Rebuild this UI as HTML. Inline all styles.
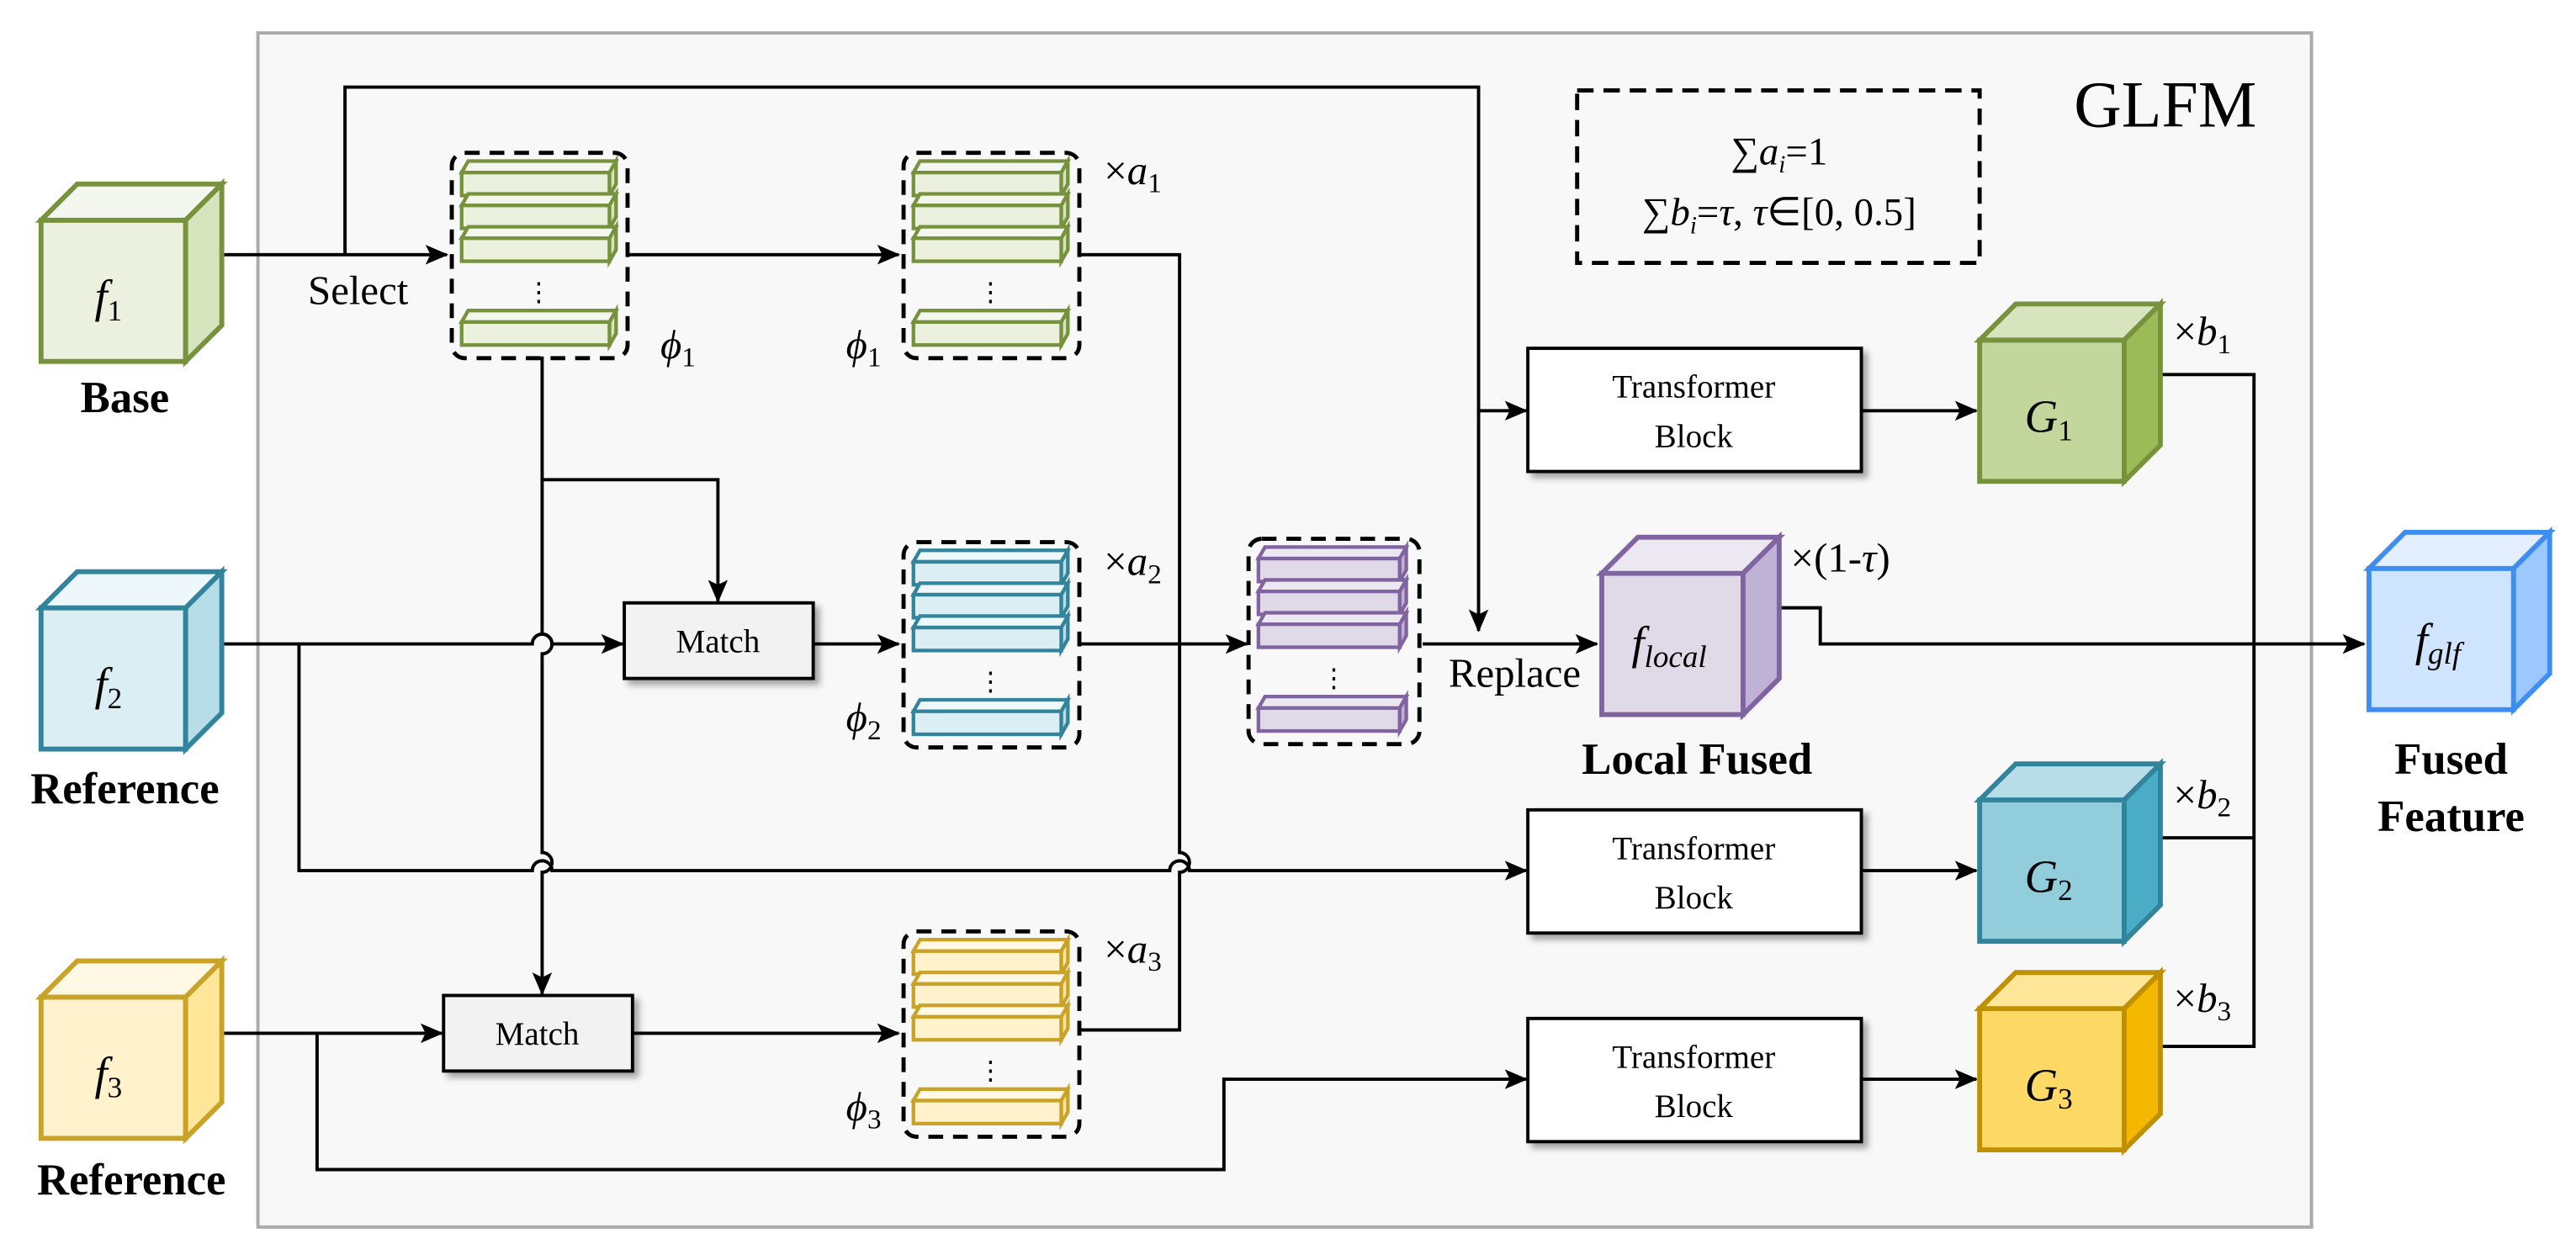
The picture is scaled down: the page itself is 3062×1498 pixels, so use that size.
<!DOCTYPE html>
<html><head><meta charset="utf-8"><style>html,body{margin:0;padding:0;background:#fff}svg{display:block}svg text{font-family:"Liberation Serif",serif}</style></head>
<body>
<svg width="3062" height="1498" viewBox="0 0 1568 767" xmlns="http://www.w3.org/2000/svg" style="font-family:'Liberation Serif',serif">
<defs>
<marker id="ar" markerWidth="14" markerHeight="12" refX="13" refY="6" orient="auto" markerUnits="userSpaceOnUse"><path d="M0,0 L14,6 L0,12 L3,6 Z" fill="#000"/></marker>
<filter id="sh" x="-10%" y="-10%" width="130%" height="140%"><feDropShadow dx="3" dy="3" stdDeviation="2" flood-color="#000" flood-opacity="0.35"/></filter>
</defs>
<rect x="157" y="20" width="1250" height="727" fill="#f8f8f8" stroke="#aaa" stroke-width="2"/>
<text x="1318" y="77" font-size="40" text-anchor="middle">GLFM</text>
<rect x="960" y="55" width="245" height="105" fill="none" stroke="#000" stroke-width="2.5" stroke-dasharray="10,6"/>
<text x="1083" y="100" font-size="24" text-anchor="middle">∑<tspan font-style="italic">a</tspan><tspan font-size="15" font-style="italic" dy="5">i</tspan><tspan dy="-5">=1</tspan></text>
<text x="1083" y="137" font-size="24" text-anchor="middle">∑<tspan font-style="italic">b</tspan><tspan font-size="15" font-style="italic" dy="5">i</tspan><tspan dy="-5">=</tspan><tspan font-style="italic">τ</tspan>, <tspan font-style="italic">τ</tspan>∈[0, 0.5]</text>

<g fill="none" stroke="#000" stroke-width="2">
<path d="M135,155 H272" marker-end="url(#ar)"/>
<path d="M210,155 V53 H900 V384" marker-end="url(#ar)"/>
<path d="M900,250 H929" marker-end="url(#ar)"/>
<path d="M383,155 H547" marker-end="url(#ar)"/>
<path d="M658,155 H718 V519 A6,6 0 0 1 718,531 V627 H658"/>
<path d="M658,392 H759" marker-end="url(#ar)"/>
<path d="M866,392 H972" marker-end="url(#ar)"/>
<path d="M330,217 V386 A6,6 0 0 1 330,398 V519 A6,6 0 0 1 330,531 V605" marker-end="url(#ar)"/>
<path d="M330,292 H437 V366" marker-end="url(#ar)"/>
<path d="M135,392 H324 A6,6 0 0 1 336,392 H379" marker-end="url(#ar)"/>
<path d="M182,392 V530 H324 A6,6 0 0 1 336,530 H712 A6,6 0 0 1 724,530 H929" marker-end="url(#ar)"/>
<path d="M495,392 H547" marker-end="url(#ar)"/>
<path d="M135,629 H269" marker-end="url(#ar)"/>
<path d="M193,629 V712 H745 V657 H929" marker-end="url(#ar)"/>
<path d="M385,629 H547" marker-end="url(#ar)"/>
<path d="M1133,250 H1203" marker-end="url(#ar)"/>
<path d="M1133,530 H1203" marker-end="url(#ar)"/>
<path d="M1133,657 H1203" marker-end="url(#ar)"/>
<path d="M1315,228 H1372 V637 H1315 M1315,510 H1372"/>
<path d="M1083,370 H1108 V392 H1439" marker-end="url(#ar)"/>
</g>

<text x="218" y="185" font-size="25" text-anchor="middle">Select</text>
<text x="922" y="418" font-size="25" text-anchor="middle">Replace</text>

<g filter="url(#sh)" stroke="#000" stroke-width="2">
<rect x="380" y="367" width="115" height="46" fill="#f2f2f2"/>
<rect x="270" y="606" width="115" height="46" fill="#f2f2f2"/>
<rect x="930" y="212" width="203" height="75" fill="#fff"/>
<rect x="930" y="493" width="203" height="75" fill="#fff"/>
<rect x="930" y="620" width="203" height="75" fill="#fff"/>
</g>
<g font-size="20" text-anchor="middle">
<text x="437" y="397">Match</text><text x="327" y="636">Match</text>
<text x="1031" y="242">Transformer</text><text x="1031" y="272">Block</text>
<text x="1031" y="523">Transformer</text><text x="1031" y="553">Block</text>
<text x="1031" y="650">Transformer</text><text x="1031" y="680">Block</text>
</g>

<g stroke-width="3" stroke-linejoin="miter">
<g stroke="#76923c"><rect x="25" y="134" width="88" height="86" fill="#ebf1de"/><path d="M25,134 L47,112 H135 L113,134 Z" fill="#f4f7ee"/><path d="M113,134 L135,112 V198 L113,220 Z" fill="#d7e4bd"/></g>
<g stroke="#31849b"><rect x="25" y="370" width="88" height="86" fill="#dbeef3"/><path d="M25,370 L47,348 H135 L113,370 Z" fill="#eef7fa"/><path d="M113,370 L135,348 V434 L113,456 Z" fill="#b7dde8"/></g>
<g stroke="#c9a227"><rect x="25" y="607" width="88" height="86" fill="#fff2cc"/><path d="M25,607 L47,585 H135 L113,607 Z" fill="#fff8e5"/><path d="M113,607 L135,585 V671 L113,693 Z" fill="#ffe699"/></g>
<g stroke="#76923c"><rect x="1205" y="207" width="88" height="86" fill="#c3d69b"/><path d="M1205,207 L1227,185 H1315 L1293,207 Z" fill="#d7e4bd"/><path d="M1293,207 L1315,185 V271 L1293,293 Z" fill="#9bbb59"/></g>
<g stroke="#31849b"><rect x="1205" y="487" width="88" height="86" fill="#92cddc"/><path d="M1205,487 L1227,465 H1315 L1293,487 Z" fill="#b7dde8"/><path d="M1293,487 L1315,465 V551 L1293,573 Z" fill="#4bacc6"/></g>
<g stroke="#bf9000"><rect x="1205" y="614" width="88" height="86" fill="#ffd966"/><path d="M1205,614 L1227,592 H1315 L1293,614 Z" fill="#ffe699"/><path d="M1293,614 L1315,592 V678 L1293,700 Z" fill="#f4b800"/></g>
<g stroke="#8064a2"><rect x="975" y="349" width="86" height="86" fill="#e0d9e8"/><path d="M975,349 L997,327 H1083 L1061,349 Z" fill="#ece8f2"/><path d="M1061,349 L1083,327 V413 L1061,435 Z" fill="#c0b2d4"/></g>
<g stroke="#3d8ef0"><rect x="1442" y="346" width="88" height="86" fill="#cfe4ff"/><path d="M1442,346 L1464,324 H1552 L1530,346 Z" fill="#e3efff"/><path d="M1530,346 L1552,324 V410 L1530,432 Z" fill="#9cc7ff"/></g>
</g>
<g font-size="28" font-style="italic" text-anchor="middle">
<text x="66" y="190">f<tspan font-size="18" font-style="normal" dy="5">1</tspan></text>
<text x="66" y="426">f<tspan font-size="18" font-style="normal" dy="5">2</tspan></text>
<text x="66" y="663">f<tspan font-size="18" font-style="normal" dy="5">3</tspan></text>
<text x="1247" y="263">G<tspan font-size="18" font-style="normal" dy="5">1</tspan></text>
<text x="1247" y="543">G<tspan font-size="18" font-style="normal" dy="5">2</tspan></text>
<text x="1247" y="670">G<tspan font-size="18" font-style="normal" dy="5">3</tspan></text>
<text x="1016" y="401">f<tspan font-size="19" dy="5">local</tspan></text>
<text x="1484" y="399">f<tspan font-size="19" dy="5">glf</tspan></text>
</g>
<g font-size="27" font-weight="bold" text-anchor="middle">
<text x="76" y="251">Base</text><text x="76" y="489">Reference</text><text x="80" y="727">Reference</text>
<text x="1033" y="471">Local Fused</text><text x="1492" y="471">Fused</text><text x="1492" y="506">Feature</text>
</g>
<g font-size="25">
<text x="672" y="112">×<tspan font-style="italic">a</tspan><tspan font-size="17" dy="5">1</tspan></text>
<text x="672" y="350">×<tspan font-style="italic">a</tspan><tspan font-size="17" dy="5">2</tspan></text>
<text x="672" y="586">×<tspan font-style="italic">a</tspan><tspan font-size="17" dy="5">3</tspan></text>
<text x="1323" y="210">×<tspan font-style="italic">b</tspan><tspan font-size="17" dy="5">1</tspan></text>
<text x="1323" y="492">×<tspan font-style="italic">b</tspan><tspan font-size="17" dy="5">2</tspan></text>
<text x="1323" y="616">×<tspan font-style="italic">b</tspan><tspan font-size="17" dy="5">3</tspan></text>
<text x="1090" y="348">×(1-<tspan font-style="italic">τ</tspan>)</text>
<text x="402" y="218" font-style="italic">ϕ<tspan font-size="17" font-style="normal" dy="5">1</tspan></text>
<text x="515" y="218" font-style="italic">ϕ<tspan font-size="17" font-style="normal" dy="5">1</tspan></text>
<text x="515" y="445" font-style="italic">ϕ<tspan font-size="17" font-style="normal" dy="5">2</tspan></text>
<text x="515" y="682" font-style="italic">ϕ<tspan font-size="17" font-style="normal" dy="5">3</tspan></text>
</g>

<g stroke-width="2.2">
<g transform="translate(275,93)"><g stroke="#76923c" fill="#ebf1de">
<path d="M6,12 L10,5 H100 L96,12 Z" fill="#f4f7ee"/><rect x="6" y="12" width="90" height="14"/><path d="M96,12 L100,5 V19 L96,26 Z" fill="#d7e4bd"/>
<path d="M6,32 L10,25 H100 L96,32 Z" fill="#f4f7ee"/><rect x="6" y="32" width="90" height="14"/><path d="M96,32 L100,25 V39 L96,46 Z" fill="#d7e4bd"/>
<path d="M6,52 L10,45 H100 L96,52 Z" fill="#f4f7ee"/><rect x="6" y="52" width="90" height="14"/><path d="M96,52 L100,45 V59 L96,66 Z" fill="#d7e4bd"/>
<path d="M6,103 L10,96 H100 L96,103 Z" fill="#f4f7ee"/><rect x="6" y="103" width="90" height="14"/><path d="M96,103 L100,96 V110 L96,117 Z" fill="#d7e4bd"/>
</g><rect x="0" y="0" width="107" height="125" rx="8" fill="none" stroke="#000" stroke-dasharray="9,6" stroke-width="2.5"/><text x="53" y="90" font-size="16" text-anchor="middle">⋮</text></g>
<g transform="translate(550,93)"><g stroke="#76923c" fill="#ebf1de">
<path d="M6,12 L10,5 H100 L96,12 Z" fill="#f4f7ee"/><rect x="6" y="12" width="90" height="14"/><path d="M96,12 L100,5 V19 L96,26 Z" fill="#d7e4bd"/>
<path d="M6,32 L10,25 H100 L96,32 Z" fill="#f4f7ee"/><rect x="6" y="32" width="90" height="14"/><path d="M96,32 L100,25 V39 L96,46 Z" fill="#d7e4bd"/>
<path d="M6,52 L10,45 H100 L96,52 Z" fill="#f4f7ee"/><rect x="6" y="52" width="90" height="14"/><path d="M96,52 L100,45 V59 L96,66 Z" fill="#d7e4bd"/>
<path d="M6,103 L10,96 H100 L96,103 Z" fill="#f4f7ee"/><rect x="6" y="103" width="90" height="14"/><path d="M96,103 L100,96 V110 L96,117 Z" fill="#d7e4bd"/>
</g><rect x="0" y="0" width="107" height="125" rx="8" fill="none" stroke="#000" stroke-dasharray="9,6" stroke-width="2.5"/><text x="53" y="90" font-size="16" text-anchor="middle">⋮</text></g>
<g transform="translate(550,330)"><g stroke="#31849b" fill="#dbeef3">
<path d="M6,12 L10,5 H100 L96,12 Z" fill="#eef7fa"/><rect x="6" y="12" width="90" height="14"/><path d="M96,12 L100,5 V19 L96,26 Z" fill="#b7dde8"/>
<path d="M6,32 L10,25 H100 L96,32 Z" fill="#eef7fa"/><rect x="6" y="32" width="90" height="14"/><path d="M96,32 L100,25 V39 L96,46 Z" fill="#b7dde8"/>
<path d="M6,52 L10,45 H100 L96,52 Z" fill="#eef7fa"/><rect x="6" y="52" width="90" height="14"/><path d="M96,52 L100,45 V59 L96,66 Z" fill="#b7dde8"/>
<path d="M6,103 L10,96 H100 L96,103 Z" fill="#eef7fa"/><rect x="6" y="103" width="90" height="14"/><path d="M96,103 L100,96 V110 L96,117 Z" fill="#b7dde8"/>
</g><rect x="0" y="0" width="107" height="125" rx="8" fill="none" stroke="#000" stroke-dasharray="9,6" stroke-width="2.5"/><text x="53" y="90" font-size="16" text-anchor="middle">⋮</text></g>
<g transform="translate(760,328)"><g stroke="#8064a2" fill="#e0d9e8">
<path d="M6,12 L10,5 H96 L92,12 Z" fill="#ece8f2"/><rect x="6" y="12" width="86" height="14"/><path d="M92,12 L96,5 V19 L92,26 Z" fill="#c0b2d4"/>
<path d="M6,32 L10,25 H96 L92,32 Z" fill="#ece8f2"/><rect x="6" y="32" width="86" height="14"/><path d="M92,32 L96,25 V39 L92,46 Z" fill="#c0b2d4"/>
<path d="M6,52 L10,45 H96 L92,52 Z" fill="#ece8f2"/><rect x="6" y="52" width="86" height="14"/><path d="M92,52 L96,45 V59 L92,66 Z" fill="#c0b2d4"/>
<path d="M6,103 L10,96 H96 L92,103 Z" fill="#ece8f2"/><rect x="6" y="103" width="86" height="14"/><path d="M92,103 L96,96 V110 L92,117 Z" fill="#c0b2d4"/>
</g><rect x="0" y="0" width="104" height="125" rx="8" fill="none" stroke="#000" stroke-dasharray="9,6" stroke-width="2.5"/><text x="52" y="90" font-size="16" text-anchor="middle">⋮</text></g>
<g transform="translate(550,567)"><g stroke="#c9a227" fill="#fff2cc">
<path d="M6,12 L10,5 H100 L96,12 Z" fill="#fff8e5"/><rect x="6" y="12" width="90" height="14"/><path d="M96,12 L100,5 V19 L96,26 Z" fill="#ffe699"/>
<path d="M6,32 L10,25 H100 L96,32 Z" fill="#fff8e5"/><rect x="6" y="32" width="90" height="14"/><path d="M96,32 L100,25 V39 L96,46 Z" fill="#ffe699"/>
<path d="M6,52 L10,45 H100 L96,52 Z" fill="#fff8e5"/><rect x="6" y="52" width="90" height="14"/><path d="M96,52 L100,45 V59 L96,66 Z" fill="#ffe699"/>
<path d="M6,103 L10,96 H100 L96,103 Z" fill="#fff8e5"/><rect x="6" y="103" width="90" height="14"/><path d="M96,103 L100,96 V110 L96,117 Z" fill="#ffe699"/>
</g><rect x="0" y="0" width="107" height="125" rx="8" fill="none" stroke="#000" stroke-dasharray="9,6" stroke-width="2.5"/><text x="53" y="90" font-size="16" text-anchor="middle">⋮</text></g>
</g>
</svg>
</body></html>
